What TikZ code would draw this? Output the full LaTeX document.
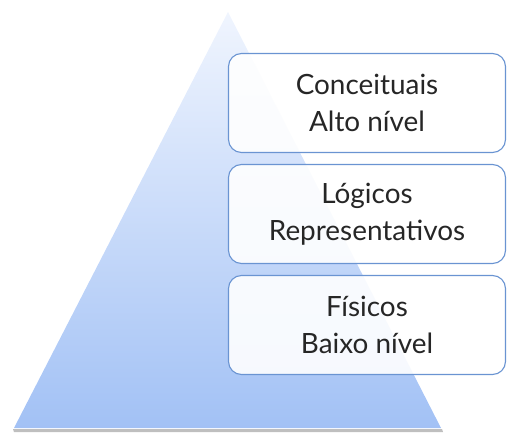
\documentclass[tikz,border=0pt]{standalone}
\usepackage{fontspec}
\setmainfont{Lato}
\definecolor{topblue}{HTML}{F0F5FE}
\definecolor{botblue}{HTML}{A2C1F5}
\definecolor{edgeblue}{HTML}{6A94D2}
\tikzset{
  levelbox/.style={draw=edgeblue, line width=1.1bp, rounded corners=13bp, fill=white, fill opacity=0.9, text opacity=1,
    minimum width=277bp, minimum height=99bp, align=center, font=\fontsize{28}{37}\selectfont, text=black!85, inner sep=0pt}
}
\begin{document}
\begin{tikzpicture}[x=1bp,y=-1bp]
\useasboundingbox (0,0) rectangle (522,448);
\fill[black, opacity=0.25] (13,429) -- (442,429) -- (443,432) -- (14,432) -- cycle;
\shade[top color=topblue, bottom color=botblue] (228,12) coordinate (apex) -- (441,428) coordinate (br) -- (14,428) coordinate (bl) -- cycle;
\node[levelbox] (c) at (367,103) {Conceituais\\Alto nível};
\node[levelbox] (l) at (367,214) {Lógicos\\Representativos};
\node[levelbox] (f) at (367,325) {Físicos\\Baixo nível};
\end{tikzpicture}
\end{document}
